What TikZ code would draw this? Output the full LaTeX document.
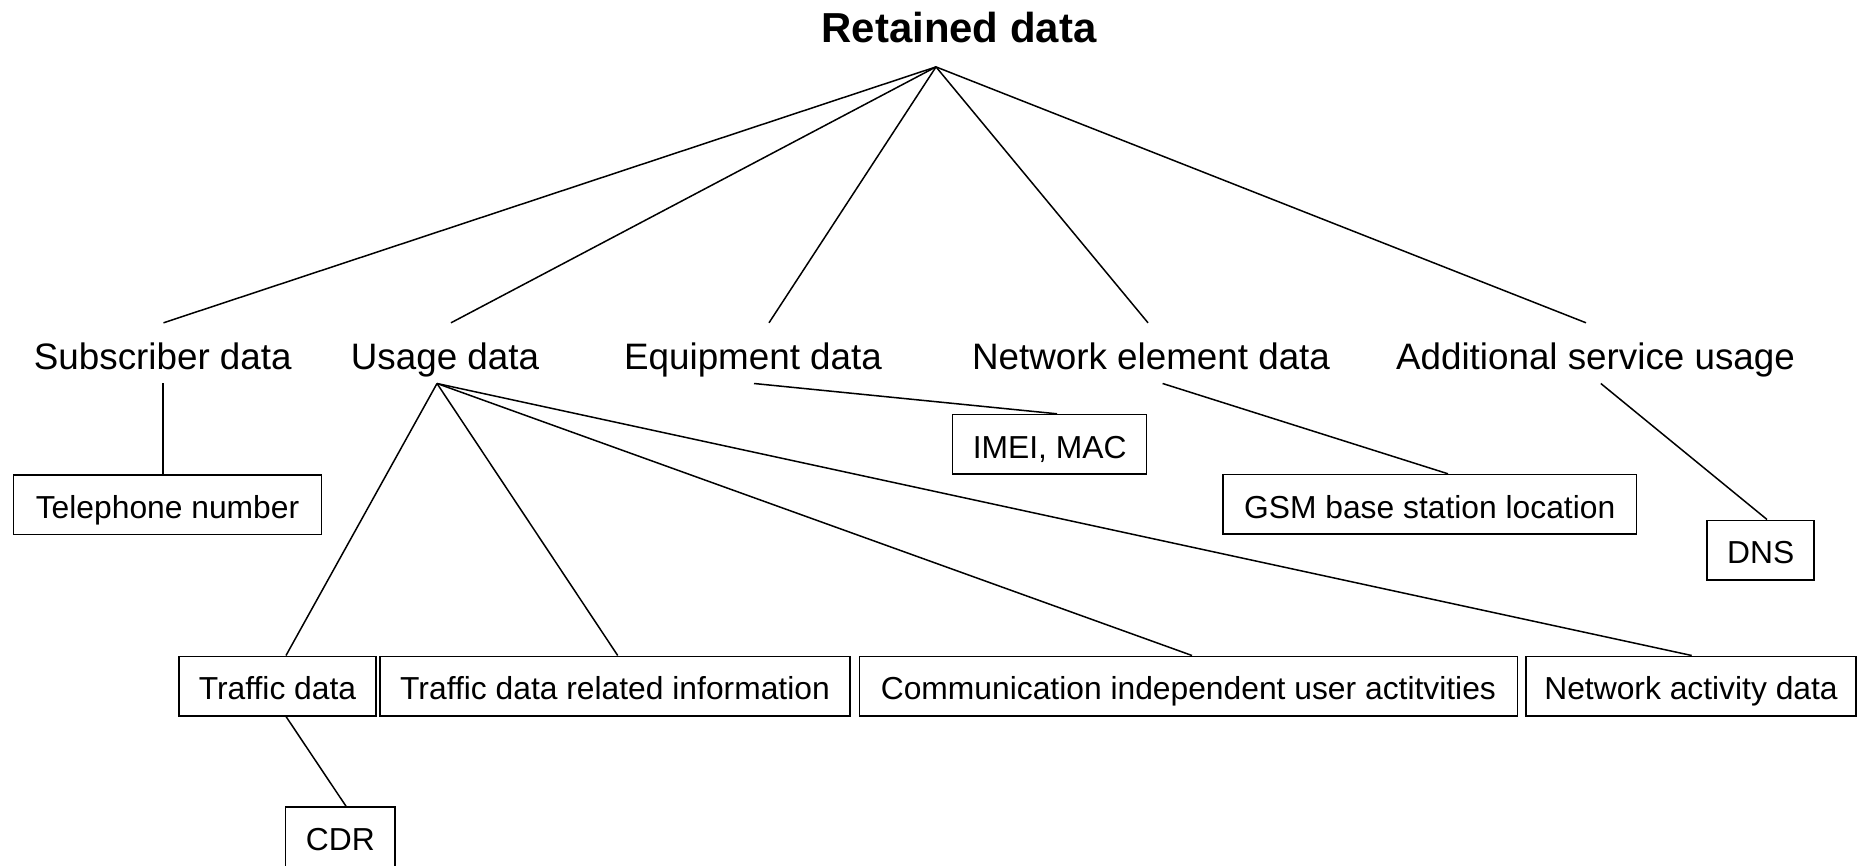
\documentclass[tikz,border=0pt]{standalone}
\usepackage{fontspec}
\setmainfont{Liberation Sans}
\begin{document}
\begin{tikzpicture}[x=1pt,y=-1pt,
  conn/.style={line width=1.5pt},
  box/.style={draw, line width=1.5pt, inner sep=0pt, minimum height=59.5pt,
    text height=27.5pt, text depth=0pt, font=\fontsize{31.8}{38}\selectfont},
  lvl/.style={inner sep=0pt, text height=46.3pt, text depth=14pt,
    font=\fontsize{36.8}{44}\selectfont},
  ttl/.style={inner sep=0pt, text height=30pt, text depth=24.4pt,
    font=\bfseries\fontsize{41.9}{50}\selectfont}]
\clip (0,0) rectangle (1858,866);
\fill[white] (0,0) rectangle (1858,866);

% title
\node[ttl, anchor=base] (title) at (959,42.3) {Retained data};
\coordinate (apex) at ([xshift=-23pt]title.south);

% level 1
\node[lvl, anchor=base] (sub) at (162.8,369.3) {Subscriber data};
\node[lvl, anchor=base] (use) at (445,369.3) {Usage data};
\node[lvl, anchor=base] (equ) at (753,369.3) {Equipment data};
\node[lvl, anchor=base] (net) at (1151,369.3) {Network element data};
\node[lvl, anchor=base] (add) at (1595.5,369.3) {Additional service usage};

% boxes
\node[box, minimum width=308.4pt] (tel) at (167.5,504.7) {Telephone number};
\node[box, minimum width=194pt] (imei) at (1049.7,444.3) {IMEI, MAC};
\node[box, minimum width=413.4pt] (gsm) at (1429.7,504.3) {GSM base station location};
\node[box, minimum width=107pt] (dns) at (1760.7,550) {DNS};
\node[box, minimum width=197pt] (td) at (277.5,686) {Traffic data};
\node[box, minimum width=470pt] (tdri) at (615,686) {Traffic data related information};
\node[box, minimum width=657.8pt] (cia) at (1188.4,686) {Communication independent user actitvities};
\node[box, minimum width=330pt] (nad) at (1691,686) {Network activity data};
\node[box, minimum width=109.3pt] (cdr) at (340.3,836.7) {CDR};

% connectors from title
\draw[conn] (apex) -- ([xshift=0.7pt]sub.north);
\draw[conn] (apex) -- ([xshift=6pt]use.north);
\draw[conn] (apex) -- ([xshift=16pt]equ.north);
\draw[conn] (apex) -- ([xshift=-3pt]net.north);
\draw[conn] (apex) -- ([xshift=-9.5pt]add.north);

% level 1 to boxes
\draw[conn] ([xshift=0.2pt]sub.south) -- ([xshift=-4.5pt]tel.north);
\draw[conn] ([xshift=1pt]equ.south) -- ([xshift=7.3pt]imei.north);
\draw[conn] ([xshift=11.6pt]net.south) -- ([xshift=18.3pt]gsm.north);
\draw[conn] ([xshift=5.3pt]add.south) -- ([xshift=6.3pt]dns.north);

\coordinate (uapex) at ([xshift=-8pt]use.south);
\draw[conn] (uapex) -- ([xshift=8.5pt]td.north);
\draw[conn] (uapex) -- ([xshift=2.7pt]tdri.north);
\draw[conn] (uapex) -- ([xshift=3.6pt]cia.north);
\draw[conn] (uapex) -- ([xshift=0.7pt]nad.north);

\draw[conn] ([xshift=8.5pt]td.south) -- ([xshift=5.7pt]cdr.north);
\end{tikzpicture}
\end{document}
